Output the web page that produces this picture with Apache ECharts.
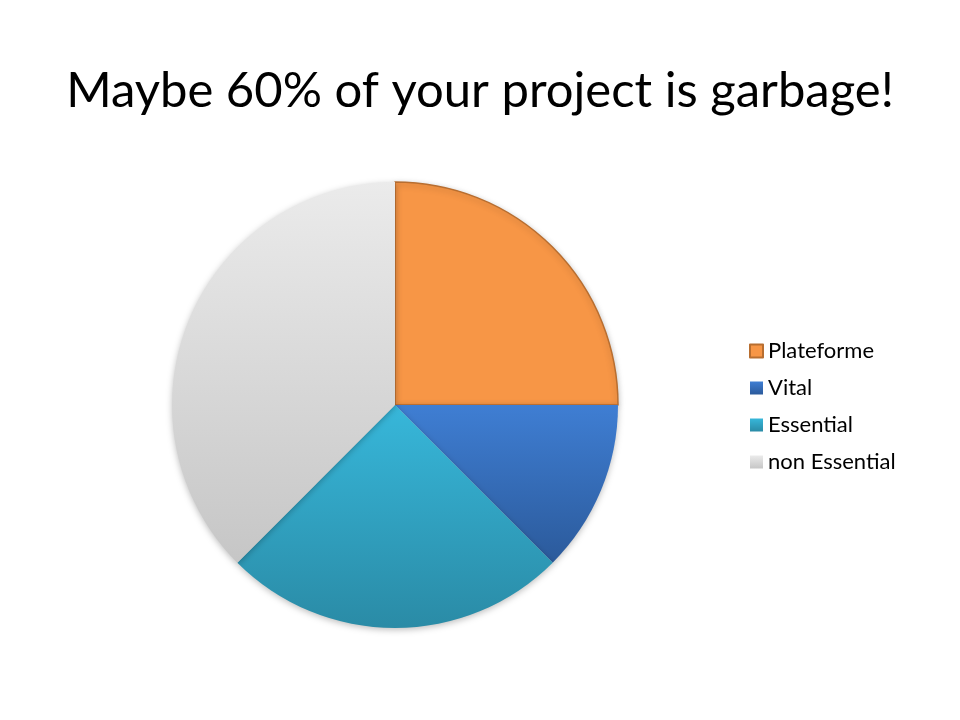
<!DOCTYPE html>
<html>
<head>
<meta charset="utf-8">
<script src="https://cdn.jsdelivr.net/npm/echarts@6/dist/echarts.min.js"></script>
<style>
  html, body { margin: 0; padding: 0; background: #fff; }
  #chart { width: 960px; height: 720px; }
</style>
</head>
<body>
<div id="chart"></div>
<script>
// slice names and shares (percent)
const categories = ['Plateforme', 'Vital', 'Essential', 'non Essential']
const values = [25, 12.5, 25, 37.5]
// top / bottom colours of each slice
const topColors = ['#F79646', '#3F7ED3', '#37B7DA', '#EBEBEB']
const bottomColors = ['#F79646', '#2B5A9B', '#2A8BA6', '#C6C6C6']
const borderColors = ['#B86E30', null, null, null]

const chart = echarts.init(document.getElementById('chart'))

const data = categories.map((name, i) => ({
  name: name,
  value: values[i],
  itemStyle: {
    color: new echarts.graphic.LinearGradient(0, 0, 0, 1, [
      { offset: 0, color: topColors[i] },
      { offset: 1, color: bottomColors[i] }
    ]),
    borderColor: borderColors[i] || 'transparent',
    borderWidth: borderColors[i] ? 1.5 : 0
  }
}))

chart.setOption({
  animation: false,
  title: {
    text: 'Maybe 60% of your project is garbage!',
    left: 'center',
    top: 62,
    textStyle: {
      fontFamily: 'Lato',
      fontWeight: 'normal',
      fontSize: 49,
      color: '#000'
    }
  },
  legend: {
    orient: 'vertical',
    left: 744,
    top: 335,
    icon: 'rect',
    itemWidth: 13,
    itemHeight: 13,
    itemGap: 15,
    textStyle: {
      fontFamily: 'Lato',
      fontSize: 22,
      lineHeight: 22,
      color: '#000'
    },
    data: categories
  },
  series: [
    {
      type: 'pie',
      center: [395, 405],
      radius: 223,
      startAngle: 90,
      clockwise: true,
      label: { show: false },
      labelLine: { show: false },
      emphasis: { disabled: true },
      itemStyle: {
        shadowBlur: 6,
        shadowColor: 'rgba(0,0,0,0.25)',
        shadowOffsetY: 2
      },
      data: data
    }
  ]
})
</script>
</body>
</html>
